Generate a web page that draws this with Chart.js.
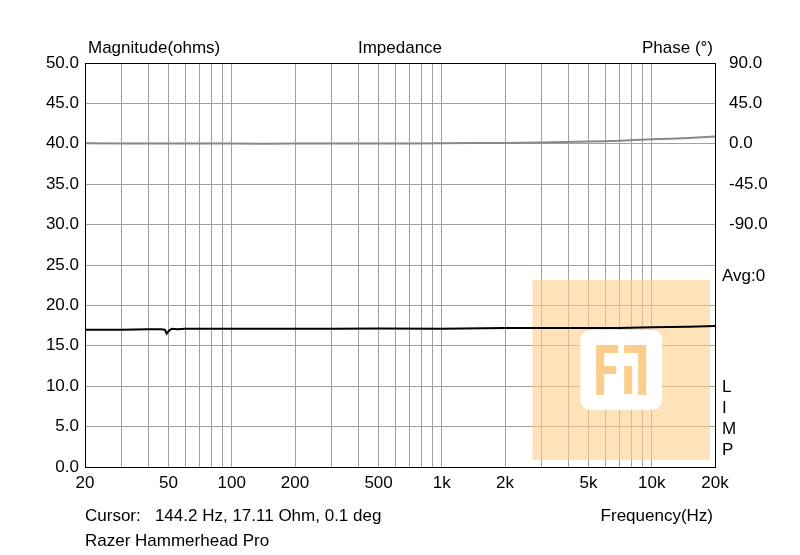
<!DOCTYPE html>
<html><head>
<script src="https://cdn.jsdelivr.net/npm/chart.js@4/dist/chart.umd.min.js"></script>
<style>body{margin:0;background:#fff}#wrap{width:800px;height:555px}</style>
</head><body><div id="wrap"><canvas id="c"></canvas></div>
<script>
const freqs = [20, 30, 40, 46, 48, 49, 50, 51, 52, 55, 60, 80, 100, 200, 300, 500, 1000, 2000, 3000, 5000, 7000, 10000, 15000, 20000];
const magnitude = [17.0, 17.0, 17.05, 17.05, 17.0, 16.5, 16.8, 17.0, 17.1, 17.05, 17.1, 17.1, 17.1, 17.1, 17.1, 17.15, 17.1, 17.2, 17.2, 17.2, 17.2, 17.3, 17.35, 17.45];
const phaseFreqs = [20, 50, 100, 200, 500, 1000, 2000, 3000, 5000, 7000, 10000, 15000, 20000];
const phase = [0.5, 0.3, 0.2, 0.2, 0.3, 0.6, 1.0, 1.5, 2.5, 3.5, 5.0, 6.5, 8.0];
const xLabels = {20:'20',50:'50',100:'100',200:'200',500:'500',1000:'1k',2000:'2k',5000:'5k',10000:'10k',20000:'20k'};
const gridFreqs = [];
[10,100,1000,10000].forEach(d => { for (let i = 1; i <= 9; i++) { const f = d*i; if (f >= 20 && f <= 20000) gridFreqs.push(f); } });
const phaseLabels = [90, 45, 0, -45, -90];

const font = { family: 'Arial, Liberation Sans', size: 17 };

const overlay = {
  id: 'overlay',
  beforeDatasetsDraw(chart) {
    const { ctx, chartArea: a } = chart;
    const x = chart.scales.x;
    ctx.save();
    ctx.fillStyle = 'rgba(252,206,140,0.6)';
    const x0 = x.getPixelForValue(2700), x1 = a.right - 5;
    ctx.fillRect(x0, a.top + 217, x1 - x0, 180);
    ctx.fillStyle = '#fff';
    const cx = (x0 + x1) / 2, cy = a.top + 307;
    ctx.beginPath(); ctx.roundRect(cx - 41, cy - 40, 82, 80, 10); ctx.fill();
    ctx.fillStyle = 'rgba(252,206,140,1)';
    ctx.fillRect(cx - 25, cy - 25, 22, 8);
    ctx.fillRect(cx - 25, cy - 25, 8, 50);
    ctx.fillRect(cx - 25, cy - 4, 20, 8);
    ctx.fillRect(cx + 3, cy - 25, 22, 8);
    ctx.fillRect(cx + 17, cy - 25, 8, 50);
    ctx.fillRect(cx + 3, cy - 4, 8, 28);
    ctx.restore();
  },
  afterDraw(chart) {
    const { ctx, chartArea: a } = chart;
    ctx.save();
    ctx.strokeStyle = '#000'; ctx.lineWidth = 1;
    ctx.strokeRect(a.left + 0.5, a.top + 0.5, a.right - a.left, a.bottom - a.top);
    ctx.fillStyle = '#000';
    ctx.font = '17px Arial, Liberation Sans';
    ctx.textBaseline = 'middle';
    ctx.textAlign = 'left';
    ctx.fillText('Magnitude(ohms)', 88, 48);
    ctx.fillText('Cursor:   144.2 Hz, 17.11 Ohm, 0.1 deg', 85, 516);
    ctx.fillText('Razer Hammerhead Pro', 85, 541);
    ctx.fillText('Avg:0', 722, 276);
    ['L','I','M','P'].forEach((t, i) => ctx.fillText(t, 722, 387 + i * 21));
    ctx.textAlign = 'center';
    ctx.fillText('Impedance', 400, 48);
    ctx.textAlign = 'right';
    ctx.fillText('Phase (°)', 713, 48);
    ctx.fillText('Frequency(Hz)', 713, 516);
    ctx.restore();
  }
};

new Chart(document.getElementById('c'), {
  type: 'line',
  data: {
    datasets: [
      { label: 'Phase', data: phaseFreqs.map((f, i) => ({ x: f, y: phase[i] })), yAxisID: 'y2', borderColor: '#888', borderWidth: 2, pointRadius: 0, tension: 0.3 },
      { label: 'Magnitude', data: freqs.map((f, i) => ({ x: f, y: magnitude[i] })), yAxisID: 'y', borderColor: '#000', borderWidth: 2, pointRadius: 0 }
    ]
  },
  options: {
    responsive: true, maintainAspectRatio: false, animation: false,
    layout: { padding: { top: 63, bottom: 58 } },
    plugins: { legend: { display: false }, tooltip: { enabled: false } },
    scales: {
      x: {
        type: 'logarithmic', min: 20, max: 20000,
        afterBuildTicks: s => { s.ticks = gridFreqs.map(v => ({ value: v })); },
        afterFit: s => { s.height = 30; },
        ticks: { autoSkip: false, maxRotation: 0, color: '#000', font, padding: 6, callback: v => xLabels[v] || '' },
        grid: { color: '#a0a0a0', drawTicks: false },
        border: { display: false }
      },
      y: {
        min: 0, max: 50,
        afterFit: s => { s.width = 85; },
        ticks: { stepSize: 5, color: '#000', font, padding: 6, callback: v => v.toFixed(1) },
        grid: { color: '#a0a0a0', drawTicks: false },
        border: { display: false }
      },
      y2: {
        position: 'right', min: -360, max: 90,
        afterFit: s => { s.width = 85; },
        ticks: { stepSize: 45, color: '#000', font, padding: 6, callback: v => phaseLabels.includes(v) ? v.toFixed(1) : '' },
        grid: { display: false },
        border: { display: false }
      }
    }
  },
  plugins: [overlay]
});
</script></body></html>
